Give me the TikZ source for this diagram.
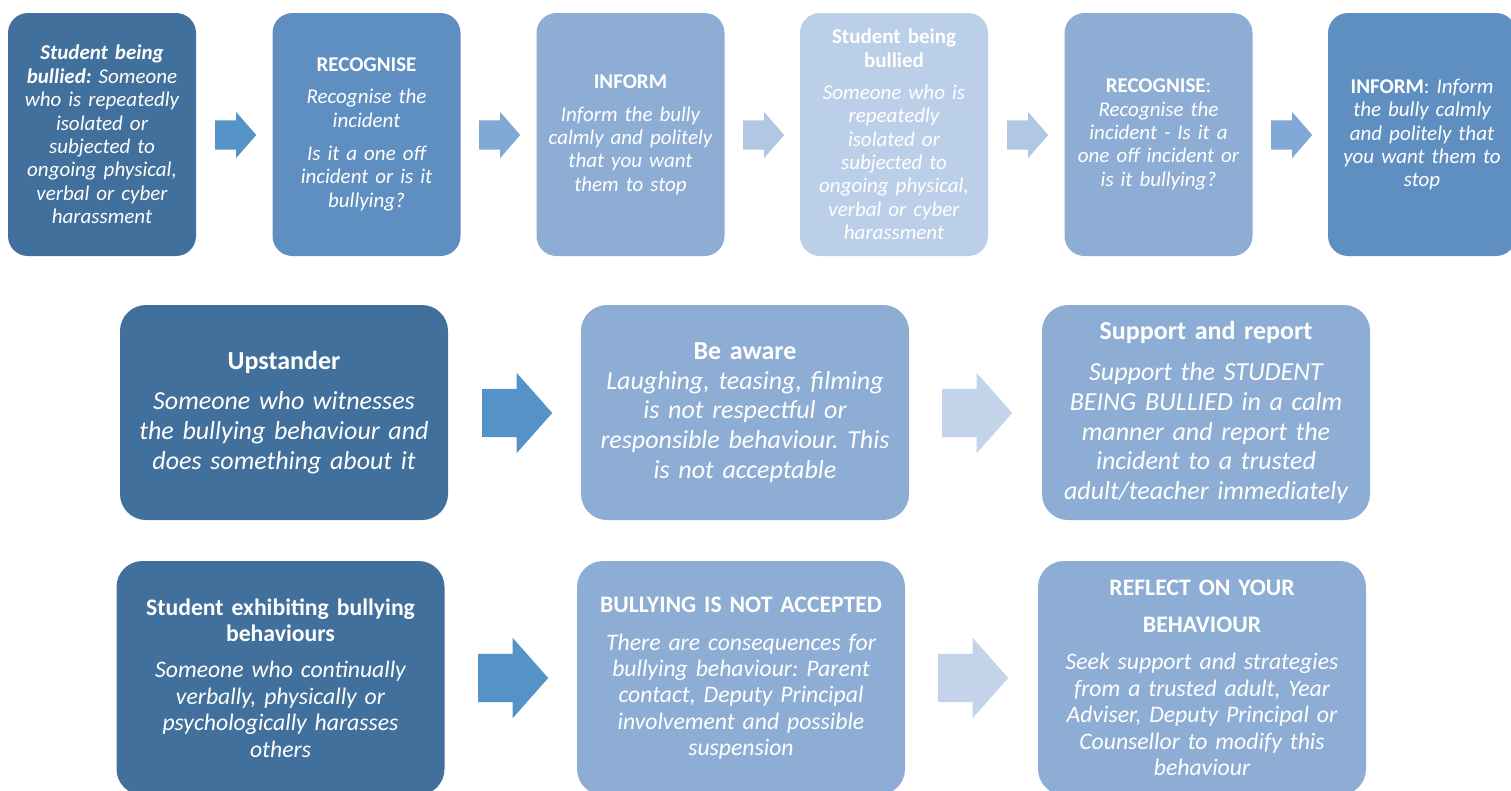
\documentclass[tikz,border=0pt]{standalone}
\usepackage{fontspec}
\setmainfont{Carlito}
\usetikzlibrary{shapes.arrows}
\frenchspacing
\definecolor{navy}{HTML}{41709C}
\definecolor{mid}{HTML}{5F8FC0}
\definecolor{soft}{HTML}{8EADD5}
\definecolor{pale}{HTML}{BBCFE8}
\definecolor{arrA}{HTML}{5592C8}
\definecolor{arrB}{HTML}{7FA8D6}
\definecolor{arrC}{HTML}{B1C8E4}
\definecolor{arrD}{HTML}{C3D4EA}
\begin{document}
\begin{tikzpicture}[x=1pt, y=-1pt,
  card/.style={rounded corners=20pt, text=white, align=center, inner sep=0pt, minimum width=188pt, minimum height=243pt, text width=186pt, font=\fontsize{21pt}{23.4pt}\selectfont},
  wide/.style={card, rounded corners=26pt, minimum width=328pt, minimum height=215pt, text width=326pt, font=\fontsize{26pt}{29.6pt}\selectfont},
  low/.style={wide, minimum height=234pt, font=\fontsize{23.7pt}{26.4pt}\selectfont},
  tip/.style={single arrow, single arrow head extend=8.5pt, single arrow tip angle=98, inner xsep=0pt, inner ysep=14.5pt, minimum height=41pt, anchor=tail},
  bigtip/.style={tip, single arrow head extend=16pt, inner ysep=24pt, minimum height=70pt, single arrow tip angle=97},
]
  \path[use as bounding box, clip] (0,0) rectangle (1511,790);
  \fill[white] (0,0) rectangle (1511,790);

  % Row 1: student being bullied
  \node[card, fill=navy] (victim) at (102,134.5) {\itshape\textbf{Student being}\\\textbf{bullied:} Someone\\who is repeatedly\\isolated or\\subjected to\\ongoing physical,\\verbal or cyber\\harassment};
  \node[card, fill=mid] (recog) at (366.5,134.5) {\textbf{RECOGNISE}\\[8.6pt]\itshape Recognise the\\incident\\[9.6pt]Is it a one off\\incident or is it\\bullying?};
  \node[card, fill=soft] (inform) at (630.5,134.5) {\textbf{INFORM}\\[9.5pt]\itshape Inform the bully\\calmly and politely\\that you want\\them to stop};
  \node[card, fill=pale] (victimb) at (894,134.5) {\textbf{Student being}\\\textbf{bullied}\\[8.6pt]\itshape Someone who is\\repeatedly\\isolated or\\subjected to\\ongoing physical,\\verbal or cyber\\harassment};
  \node[card, fill=soft] (recogb) at (1158.5,134.5) {\textbf{RECOGNISE}:\\\itshape Recognise the\\incident - Is it a\\one off incident or\\is it bullying?};
  \node[card, fill=mid] (informb) at (1422,134.5) {\textbf{INFORM}: \textit{Inform}\\\itshape the bully calmly\\and politely that\\you want them to\\stop};
  \foreach \i/\c in {0/arrA, 1/arrB, 2/arrC, 3/arrC, 4/arrB}
    \node[tip, fill=\c] (t\i) at ({215+264*\i},135) {};

  % Row 2: upstander
  \node[wide, fill=navy] (up) at (284,412.5) {\textbf{Upstander}\\[10.4pt]\itshape Someone who witnesses\\the bullying behaviour and\\does something about it};
  \node[wide, fill=soft] (aware) at (745,412.5) {\textbf{Be aware}\\\itshape Laughing, teasing, filming\\is not respectful or\\responsible behaviour. This\\is not acceptable};
  \node[wide, fill=soft] (report) at (1206,412.5) {\textbf{Support and report}\\[11.4pt]\itshape Support the STUDENT\\BEING BULLIED in a calm\\manner and report the\\incident to a trusted\\adult/teacher immediately};
  \node[bigtip, fill=arrA] (m0) at (482,413) {};
  \node[bigtip, fill=arrD] (m1) at (942,413) {};

  % Row 3: student exhibiting bullying behaviours
  \node[low, fill=navy] (bully) at (280.5,678) {\textbf{Student exhibiting bullying}\\\textbf{behaviours}\\[9.6pt]\itshape Someone who continually\\verbally, physically or\\psychologically harasses\\others};
  \node[low, fill=soft] (notok) at (741,678) {\textbf{BULLYING IS NOT ACCEPTED}\\[11.6pt]\itshape There are consequences for\\bullying behaviour: Parent\\contact, Deputy Principal\\involvement and possible\\suspension};
  \node[low, fill=soft] (reflect) at (1202,678) {\textbf{REFLECT ON YOUR}\\[10.6pt]\textbf{BEHAVIOUR}\\[10.6pt]\itshape Seek support and strategies\\from a trusted adult, Year\\Adviser, Deputy Principal or\\Counsellor to modify this\\behaviour};
  \node[bigtip, fill=arrA] (b0) at (478,678) {};
  \node[bigtip, fill=arrD] (b1) at (938,678) {};
\end{tikzpicture}
\end{document}
